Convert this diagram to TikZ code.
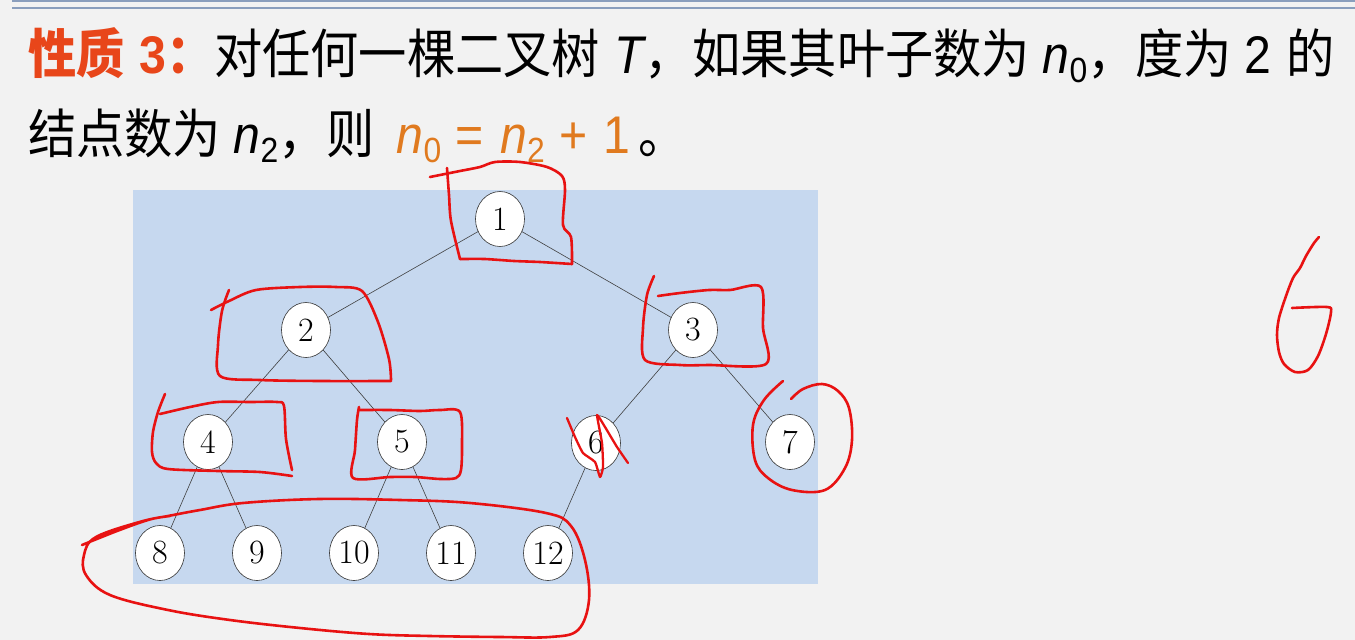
\documentclass[tikz,border=0pt]{standalone}
\usepackage{fontspec}
\usepackage{graphicx}
\usetikzlibrary{shapes.geometric}
\newfontfamily\cjk{Noto Sans CJK SC}
\newfontfamily\ls{Liberation Sans}
\definecolor{pagebg}{HTML}{F2F2F2}
\definecolor{treebg}{HTML}{C6D8EF}
\definecolor{titleorange}{HTML}{E8461A}
\definecolor{formulaorange}{HTML}{E07A1F}
\definecolor{penred}{HTML}{E81212}
\definecolor{topline}{HTML}{8A9EBD}
\newcommand\nsubs[1]{{\ls\itshape n}\raisebox{-9pt}{\ls\fontsize{35}{35}\selectfont #1}}
\newcommand\gap[1]{\hspace*{#1pt}}
\tikzset{
  treenode/.style={ellipse, draw=black!80, line width=0.6pt, fill=white,
    minimum width=49pt, minimum height=55pt, inner sep=0pt,
    font=\fontsize{34}{34}\selectfont},
  edge/.style={draw=black!75, line width=0.6pt},
  redpen/.style={draw=penred, line width=2.6pt, line cap=round, line join=round},
  textline/.style={anchor=base west, inner sep=0pt, font=\fontsize{53}{53}\selectfont}
}
\begin{document}
\begin{tikzpicture}[x=1pt,y=-1pt]
\useasboundingbox (0,0) rectangle (1355,640);
\fill[pagebg] (0,0) rectangle (1355,640);
% top rules
\fill[topline] (12,0) rectangle (1355,2);
\draw[topline, line width=1.5pt] (12,8) -- (1355,8);
% title text
\node[textline] (line1) at (28,73) {\scalebox{0.91}[1]{%
  {\color{titleorange}\bfseries\cjk 性质\gap{16}{\ls\bfseries 3}：}{\cjk 对任何一棵二叉树}\gap{16}{\ls\itshape T}{\cjk ，如果其叶子数为}\gap{14}\nsubs{0}{\cjk ，度为}\gap{14}{\ls 2}\gap{16}{\cjk 的}}};
\node[textline] (line2) at (28,153) {\scalebox{0.91}[1]{%
  {\cjk 结点数为}\gap{14}\nsubs{2}{\cjk ，则}\gap{24}{\color{formulaorange}\nsubs{0}\gap{16}{\ls =}\gap{18}\nsubs{2}\gap{16}{\ls +}\gap{18}{\ls 1}}\gap{8}{\cjk 。}}};
% tree background
\fill[treebg] (133,190) rectangle (818,584);
% nodes
\node[treenode] (n1) at (500,219) {1};
\node[treenode] (n2) at (306,330) {2};
\node[treenode] (n3) at (693,330) {3};
\node[treenode] (n4) at (208,442) {4};
\node[treenode] (n5) at (402,442) {5};
\node[treenode] (n6) at (596,443) {6};
\node[treenode] (n7) at (790,442) {7};
\node[treenode] (n8) at (160,553) {8};
\node[treenode] (n9) at (257,553) {9};
\node[treenode] (n10) at (354,553) {10};
\node[treenode] (n11) at (451,553) {11};
\node[treenode] (n12) at (548,553) {12};
% edges
\draw[edge] (n1) -- (n2);
\draw[edge] (n1) -- (n3);
\draw[edge] (n2) -- (n4);
\draw[edge] (n2) -- (n5);
\draw[edge] (n3) -- (n6);
\draw[edge] (n3) -- (n7);
\draw[edge] (n4) -- (n8);
\draw[edge] (n4) -- (n9);
\draw[edge] (n5) -- (n10);
\draw[edge] (n5) -- (n11);
\draw[edge] (n6) -- (n12);
% red annotations
% box 1
\draw[redpen] plot[smooth, tension=0.5] coordinates {(430,177) (460,171) (480,167) (495,162) (520,162) (547,167) (562,176) (565,190) (563,225) (571,237) (572,264)};
\draw[redpen] plot[smooth, tension=0.3] coordinates {(572,264) (540,262) (514,261) (485,259) (460,259)};
\draw[redpen] plot[smooth, tension=0.5] coordinates {(447,168) (449,195) (451,221) (460,259)};
% box 2
\draw[redpen] plot[smooth, tension=0.5] coordinates {(211,310) (229,301) (256,290) (300,287) (336,287) (362,291) (378,322) (389,359) (391,380)};
\draw[redpen] plot[smooth, tension=0.5] coordinates {(229,290) (222,311) (218,345) (220,376) (260,380) (320,381) (391,381)};
% box 3
\draw[redpen] plot[smooth, tension=0.5] coordinates {(654,276) (647,295) (643,328) (645,360) (680,365) (709,365) (766,364) (763,328) (761,287) (730,290) (709,290) (680,293) (658,296)};
% box 4
\draw[redpen] plot[smooth, tension=0.5] coordinates {(165,394) (158,412) (153,432) (152,452) (156,463) (168,469) (218,471) (260,472) (292,476)};
\draw[redpen] plot[smooth, tension=0.5] coordinates {(160,414) (190,407) (218,402) (250,402) (277,402) (284,406) (286,439) (292,470)};
% box 5
\draw[redpen] plot[smooth, tension=0.5] coordinates {(359,407) (357,420) (355,450) (353,478) (390,477) (415,477) (440,479) (456,478) (461,470) (462,445) (460,412) (440,410) (420,411) (390,410) (359,410)};
% cross on 6
\draw[redpen, line width=2.3pt] plot[smooth, tension=0.3] coordinates {(567,418) (575,437) (583,453) (595,462) (600,477) (603,467) (602,443) (597,415) (605,427) (617,447) (628,463)};
% circle 7
\draw[redpen] plot[smooth, tension=0.6] coordinates {(783,381) (764,400) (753,425) (755,460) (768,478) (792,490) (825,490) (845,468) (852,440) (849,408) (838,391) (822,384) (803,389) (791,399)};
% leaf loop
\draw[redpen] plot[smooth, tension=0.6] coordinates {(82,545) (117,531) (148,520) (168,516) (200,510) (243,503) (319,499) (400,500) (470,503) (546,513) (571,526) (585,560) (589,600) (578,630) (550,637) (500,637) (430,636) (369,634) (300,628) (230,620) (168,610) (110,595) (86,575) (84,555) (96,537) (143,521) (170,516)};
% red 6 on the right
\draw[redpen] plot[smooth, tension=0.5] coordinates {(1319,237) (1314,243) (1306,256) (1300,268) (1293,278) (1286,296) (1279,318) (1277,335) (1279,352) (1284,364) (1295,372) (1308,370) (1318,356) (1326,334) (1331,312) (1327,307) (1292,308)};
\end{tikzpicture}
\end{document}
